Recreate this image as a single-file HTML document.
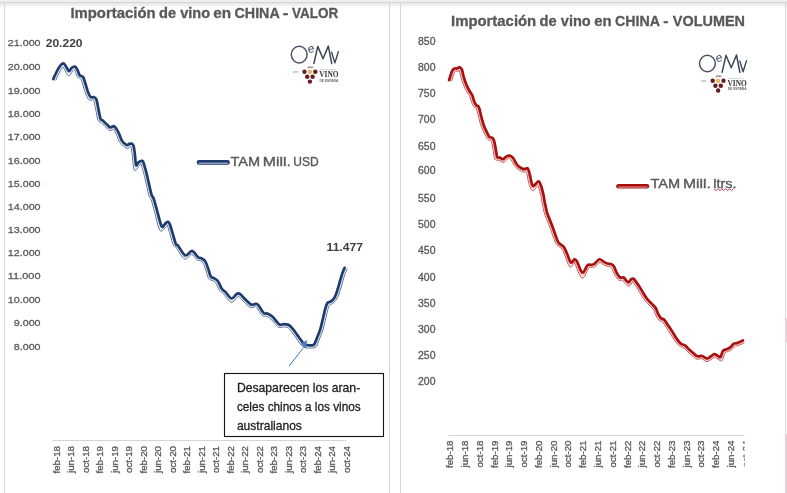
<!DOCTYPE html>
<html><head><meta charset="utf-8"><title>Importación de vino en China</title>
<style>html,body{margin:0;padding:0;background:#fff;width:787px;height:493px;overflow:hidden}svg{display:block}</style>
</head><body>
<svg width="787" height="493" viewBox="0 0 787 493" font-family="Liberation Sans, Arial, sans-serif">
<defs>
<linearGradient id="tg" x1="0" y1="0" x2="0" y2="1"><stop offset="0" stop-color="#e6e6e6"/><stop offset="1" stop-color="#ffffff"/></linearGradient>
<clipPath id="rclip"><rect x="400" y="0" width="344.6" height="493"/></clipPath>
</defs>
<rect x="0" y="0" width="787" height="493" fill="#ffffff"/>
<rect x="0" y="0" width="787" height="2" fill="#efefef"/>
<rect x="0" y="2" width="787" height="1" fill="#d5d5d5"/>
<rect x="0" y="3" width="787" height="5" fill="url(#tg)"/>
<rect x="4" y="2" width="1" height="491" fill="#d9d9d9"/>
<rect x="389" y="2" width="1" height="491" fill="#d9d9d9"/>
<rect x="400" y="2" width="1" height="491" fill="#d9d9d9"/>
<rect x="785" y="2" width="1" height="491" fill="#dadada"/>
<rect x="785" y="318" width="2" height="24" fill="#e6d6da"/>
<rect x="785" y="434" width="2" height="59" fill="#e4d2d7"/>

<g font-weight="bold" font-size="14.5" fill="#595959" stroke="#595959" stroke-width="0.3"><text x="70.40" y="17.60" textLength="85.22" lengthAdjust="spacingAndGlyphs">Importación</text><text x="159.00" y="17.60" textLength="17.10" lengthAdjust="spacingAndGlyphs">de</text><text x="180.24" y="17.60" textLength="29.93" lengthAdjust="spacingAndGlyphs">vino</text><text x="213.30" y="17.60" textLength="17.85" lengthAdjust="spacingAndGlyphs">en</text><text x="234.51" y="17.60" textLength="45.26" lengthAdjust="spacingAndGlyphs">CHINA</text><text x="282.49" y="17.60" textLength="6.03" lengthAdjust="spacingAndGlyphs">-</text><text x="292.01" y="17.60" textLength="46.26" lengthAdjust="spacingAndGlyphs">VALOR</text></g>
<g font-size="9.8" fill="#595959" stroke="#595959" stroke-width="0.28"><text x="40.6" y="45.80" text-anchor="end" textLength="32.82" lengthAdjust="spacingAndGlyphs">21.000</text>
<text x="40.6" y="70.30" text-anchor="end" textLength="32.82" lengthAdjust="spacingAndGlyphs">20.000</text>
<text x="40.6" y="93.60" text-anchor="end" textLength="32.82" lengthAdjust="spacingAndGlyphs">19.000</text>
<text x="40.6" y="116.90" text-anchor="end" textLength="32.82" lengthAdjust="spacingAndGlyphs">18.000</text>
<text x="40.6" y="140.45" text-anchor="end" textLength="32.82" lengthAdjust="spacingAndGlyphs">17.000</text>
<text x="40.6" y="163.60" text-anchor="end" textLength="32.82" lengthAdjust="spacingAndGlyphs">16.000</text>
<text x="40.6" y="186.50" text-anchor="end" textLength="32.82" lengthAdjust="spacingAndGlyphs">15.000</text>
<text x="40.6" y="209.80" text-anchor="end" textLength="32.82" lengthAdjust="spacingAndGlyphs">14.000</text>
<text x="40.6" y="233.30" text-anchor="end" textLength="32.82" lengthAdjust="spacingAndGlyphs">13.000</text>
<text x="40.6" y="256.00" text-anchor="end" textLength="32.82" lengthAdjust="spacingAndGlyphs">12.000</text>
<text x="40.6" y="279.45" text-anchor="end" textLength="32.82" lengthAdjust="spacingAndGlyphs">11.000</text>
<text x="40.6" y="302.80" text-anchor="end" textLength="32.82" lengthAdjust="spacingAndGlyphs">10.000</text>
<text x="40.6" y="326.20" text-anchor="end" textLength="26.85" lengthAdjust="spacingAndGlyphs">9.000</text>
<text x="40.6" y="349.50" text-anchor="end" textLength="26.85" lengthAdjust="spacingAndGlyphs">8.000</text></g>
<line x1="52.2" y1="440.5" x2="346.5" y2="440.5" stroke="#d4d4d4" stroke-width="1"/>
<g fill="#595959" stroke="#595959" stroke-width="0.3"><text transform="translate(59.60,446.00) rotate(-90) scale(1.080,1)" text-anchor="end" font-size="9.0">feb-18</text>
<text transform="translate(74.10,446.00) rotate(-90) scale(1.080,1)" text-anchor="end" font-size="9.0">jun-18</text>
<text transform="translate(88.61,446.00) rotate(-90) scale(1.080,1)" text-anchor="end" font-size="9.0">oct-18</text>
<text transform="translate(103.11,446.00) rotate(-90) scale(1.080,1)" text-anchor="end" font-size="9.0">feb-19</text>
<text transform="translate(117.62,446.00) rotate(-90) scale(1.080,1)" text-anchor="end" font-size="9.0">jun-19</text>
<text transform="translate(132.12,446.00) rotate(-90) scale(1.080,1)" text-anchor="end" font-size="9.0">oct-19</text>
<text transform="translate(146.63,446.00) rotate(-90) scale(1.080,1)" text-anchor="end" font-size="9.0">feb-20</text>
<text transform="translate(161.13,446.00) rotate(-90) scale(1.080,1)" text-anchor="end" font-size="9.0">jun-20</text>
<text transform="translate(175.64,446.00) rotate(-90) scale(1.080,1)" text-anchor="end" font-size="9.0">oct-20</text>
<text transform="translate(190.14,446.00) rotate(-90) scale(1.080,1)" text-anchor="end" font-size="9.0">feb-21</text>
<text transform="translate(204.65,446.00) rotate(-90) scale(1.080,1)" text-anchor="end" font-size="9.0">jun-21</text>
<text transform="translate(219.15,446.00) rotate(-90) scale(1.080,1)" text-anchor="end" font-size="9.0">oct-21</text>
<text transform="translate(233.66,446.00) rotate(-90) scale(1.080,1)" text-anchor="end" font-size="9.0">feb-22</text>
<text transform="translate(248.16,446.00) rotate(-90) scale(1.080,1)" text-anchor="end" font-size="9.0">jun-22</text>
<text transform="translate(262.67,446.00) rotate(-90) scale(1.080,1)" text-anchor="end" font-size="9.0">oct-22</text>
<text transform="translate(277.17,446.00) rotate(-90) scale(1.080,1)" text-anchor="end" font-size="9.0">feb-23</text>
<text transform="translate(291.68,446.00) rotate(-90) scale(1.080,1)" text-anchor="end" font-size="9.0">jun-23</text>
<text transform="translate(306.18,446.00) rotate(-90) scale(1.080,1)" text-anchor="end" font-size="9.0">oct-23</text>
<text transform="translate(320.69,446.00) rotate(-90) scale(1.080,1)" text-anchor="end" font-size="9.0">feb-24</text>
<text transform="translate(335.19,446.00) rotate(-90) scale(1.080,1)" text-anchor="end" font-size="9.0">jun-24</text>
<text transform="translate(349.70,446.00) rotate(-90) scale(1.080,1)" text-anchor="end" font-size="9.0">oct-24</text></g>
<path d="M55.8,80.1 C56.3,79.0 57.8,75.3 58.9,73.2 C60.0,71.2 61.4,68.8 62.1,67.8 C62.8,66.8 62.7,67.0 63.0,67.0 C63.3,67.1 62.9,66.5 63.8,68.0 C64.7,69.4 67.0,75.5 68.6,75.9 C70.1,76.3 72.2,71.2 73.2,70.2 C74.1,69.2 73.7,69.7 74.1,69.9 C74.4,70.1 74.6,70.2 75.1,71.3 C75.7,72.5 76.6,75.6 77.3,76.8 C78.0,77.9 79.0,77.9 79.6,78.3 C80.2,78.7 80.5,78.2 81.1,79.1 C81.6,80.1 82.0,81.7 82.7,84.0 C83.4,86.3 84.3,90.2 85.4,92.8 C86.4,95.4 87.7,98.6 88.9,99.8 C90.2,101.0 91.9,99.6 92.8,99.8 C93.6,100.0 93.5,99.3 94.0,101.0 C94.5,102.8 95.2,106.9 95.9,110.2 C96.5,113.4 97.2,118.2 98.1,120.3 C99.0,122.5 100.2,121.9 101.3,122.8 C102.4,123.8 103.1,124.8 104.6,126.1 C106.0,127.4 108.5,130.0 109.9,130.5 C111.3,131.0 112.3,129.3 113.0,129.3 C113.7,129.2 113.6,129.5 114.1,130.3 C114.7,131.2 115.6,132.7 116.5,134.6 C117.3,136.4 118.2,139.5 119.1,141.2 C120.1,143.0 120.7,143.9 122.0,145.1 C123.4,146.3 125.9,148.2 127.2,148.4 C128.6,148.7 129.5,146.9 130.0,146.6 C130.6,146.3 130.4,146.4 130.6,146.6 C130.8,146.7 130.8,146.0 131.1,147.3 C131.4,148.7 131.7,151.0 132.2,154.8 C132.8,158.7 133.2,168.7 134.5,170.3 C135.9,171.8 139.1,165.4 140.3,164.4 C141.4,163.3 141.3,163.9 141.4,163.8 C141.5,163.7 140.8,163.1 140.9,163.7 C141.0,164.3 141.6,165.6 142.1,167.5 C142.6,169.3 143.0,170.1 144.1,174.7 C145.2,179.2 147.6,190.5 148.7,194.7 C149.9,198.9 150.3,197.1 151.2,199.7 C152.1,202.3 152.7,205.2 154.2,210.3 C155.7,215.5 158.0,227.7 160.0,230.4 C162.0,233.1 165.0,227.3 166.2,226.5 C167.4,225.7 166.9,225.7 167.2,225.7 C167.4,225.7 166.7,223.1 167.7,226.3 C168.7,229.4 171.8,241.1 173.2,244.6 C174.6,248.1 174.0,245.0 176.0,247.4 C177.9,249.8 182.1,257.9 184.7,259.1 C187.3,260.2 189.6,254.3 191.6,254.4 C193.6,254.5 195.2,258.6 196.5,259.6 C197.9,260.6 198.8,260.0 199.8,260.5 C200.9,261.1 202.1,261.5 203.1,263.1 C204.1,264.7 204.9,267.6 205.9,270.2 C206.8,272.8 207.4,276.7 208.6,278.5 C209.8,280.3 211.8,280.0 213.0,280.8 C214.2,281.6 214.8,281.6 215.9,283.2 C217.0,284.8 218.4,288.7 219.6,290.5 C220.9,292.3 221.6,291.9 223.5,293.8 C225.5,295.8 228.9,301.8 231.3,302.3 C233.7,302.7 236.5,297.5 237.8,296.6 C239.1,295.7 238.6,296.3 239.2,296.8 C239.9,297.3 240.0,297.9 241.8,299.7 C243.6,301.4 247.8,306.2 250.1,307.3 C252.4,308.5 254.3,306.7 255.3,306.7 C256.4,306.7 255.3,305.8 256.5,307.2 C257.6,308.7 260.5,314.0 262.1,315.5 C263.8,317.0 265.0,315.6 266.4,316.2 C267.8,316.7 269.2,317.5 270.5,318.7 C271.9,319.9 273.2,321.9 274.5,323.3 C275.9,324.8 277.1,326.8 278.6,327.4 C280.1,328.0 282.3,326.9 283.8,326.9 C285.2,326.9 286.4,327.0 287.3,327.4 C288.2,327.7 288.5,328.3 289.2,328.9 C289.9,329.6 290.2,330.0 291.4,331.5 C292.6,333.0 294.5,335.8 296.2,338.1 C297.9,340.4 299.8,343.7 301.5,345.3 C303.2,346.9 304.5,347.2 306.2,347.7 C307.8,348.1 309.8,348.2 311.5,348.0 C313.2,347.9 314.8,348.3 316.2,346.6 C317.6,345.0 318.7,340.9 319.8,338.1 C320.9,335.3 321.9,333.4 322.9,330.0 C323.9,326.6 325.1,320.9 325.9,317.6 C326.7,314.4 327.0,312.5 327.6,310.4 C328.2,308.4 328.8,306.1 329.4,305.1 C330.1,304.0 330.5,305.0 331.5,304.2 C332.5,303.5 334.4,302.2 335.5,300.8 C336.6,299.5 337.2,298.2 338.1,296.3 C338.9,294.4 339.7,291.8 340.5,289.3 C341.2,286.8 342.0,284.0 342.7,281.5 C343.4,279.0 344.1,276.4 344.8,274.3 C345.6,272.2 346.7,269.7 347.1,268.8" fill="none" stroke="#5b6d90" stroke-width="1.00" stroke-linejoin="round" stroke-linecap="round"/>
<path d="M54.8,79.7 C55.3,78.5 56.8,74.8 57.9,72.7 C59.0,70.6 60.4,68.3 61.2,67.1 C62.1,65.9 62.6,65.5 63.2,65.5 C63.8,65.6 63.8,65.9 64.7,67.3 C65.6,68.7 67.4,73.6 68.7,74.0 C70.0,74.3 71.5,70.2 72.5,69.3 C73.4,68.4 73.8,68.3 74.4,68.5 C75.0,68.8 75.5,69.5 76.1,70.8 C76.7,72.0 77.5,75.0 78.2,76.1 C78.9,77.2 79.5,77.0 80.2,77.4 C80.8,77.8 81.4,77.3 82.0,78.4 C82.6,79.4 83.0,81.4 83.8,83.7 C84.5,86.0 85.4,89.9 86.4,92.4 C87.4,94.9 88.5,97.6 89.6,98.7 C90.8,99.8 92.3,98.4 93.2,98.7 C94.1,99.0 94.4,98.6 95.0,100.5 C95.6,102.4 96.3,106.7 96.9,109.9 C97.6,113.1 98.2,117.7 99.1,119.7 C99.9,121.7 101.0,121.1 102.0,122.0 C103.1,122.9 104.0,124.1 105.3,125.3 C106.7,126.5 108.8,128.8 110.1,129.2 C111.4,129.7 112.5,127.9 113.3,128.0 C114.1,128.0 114.3,128.7 115.0,129.7 C115.7,130.7 116.6,132.3 117.5,134.1 C118.3,135.9 119.2,139.0 120.1,140.7 C121.0,142.4 121.6,143.2 122.8,144.3 C124.0,145.4 126.1,146.9 127.2,147.1 C128.4,147.3 129.0,145.8 129.7,145.5 C130.4,145.2 130.8,145.2 131.2,145.4 C131.6,145.7 131.8,145.4 132.2,147.0 C132.5,148.5 132.8,151.2 133.3,154.7 C133.8,158.2 134.1,166.7 135.2,168.2 C136.2,169.6 138.6,164.4 139.6,163.5 C140.6,162.6 140.9,162.8 141.2,162.7 C141.6,162.6 141.4,162.0 141.8,162.8 C142.1,163.5 142.6,165.2 143.2,167.2 C143.7,169.1 144.0,169.9 145.1,174.4 C146.3,178.9 148.6,190.2 149.8,194.3 C151.0,198.5 151.3,196.7 152.2,199.3 C153.1,201.9 153.9,205.1 155.3,210.0 C156.7,214.9 158.9,226.1 160.7,228.7 C162.4,231.3 164.4,226.4 165.5,225.6 C166.6,224.8 166.8,224.1 167.4,224.1 C167.9,224.2 167.5,222.4 168.7,225.8 C169.8,229.1 172.8,240.6 174.2,244.0 C175.5,247.5 175.0,244.4 176.8,246.6 C178.6,248.9 182.4,256.5 184.9,257.6 C187.4,258.6 189.7,252.8 191.8,253.0 C193.8,253.2 195.7,257.5 197.1,258.6 C198.6,259.7 199.2,258.9 200.4,259.5 C201.5,260.2 202.9,260.7 204.0,262.4 C205.1,264.1 206.0,267.3 206.9,269.8 C207.8,272.4 208.4,276.1 209.5,277.7 C210.6,279.4 212.4,279.0 213.6,279.8 C214.8,280.6 215.7,280.9 216.8,282.5 C218.0,284.2 219.3,288.0 220.5,289.8 C221.8,291.6 222.5,291.2 224.3,293.1 C226.1,294.9 229.2,300.3 231.4,300.7 C233.6,301.1 236.1,296.2 237.5,295.4 C238.9,294.6 238.9,295.2 239.8,295.8 C240.6,296.4 240.8,297.2 242.6,298.9 C244.3,300.7 248.3,305.1 250.5,306.2 C252.6,307.3 254.4,305.5 255.5,305.5 C256.7,305.6 256.0,304.9 257.2,306.4 C258.4,307.8 261.2,313.0 262.8,314.5 C264.4,315.9 265.4,314.6 266.8,315.1 C268.2,315.7 269.8,316.6 271.2,317.8 C272.7,319.1 274.0,321.2 275.3,322.6 C276.6,324.0 277.6,325.7 279.0,326.3 C280.4,326.8 282.3,325.8 283.8,325.8 C285.2,325.8 286.7,325.9 287.7,326.3 C288.8,326.7 289.2,327.4 290.0,328.1 C290.7,328.9 291.1,329.2 292.2,330.8 C293.4,332.3 295.4,335.2 297.1,337.4 C298.8,339.7 300.7,342.9 302.2,344.5 C303.8,346.0 304.9,346.2 306.5,346.6 C308.0,347.0 309.9,347.1 311.4,346.9 C312.9,346.8 314.1,347.3 315.4,345.7 C316.6,344.2 317.7,340.4 318.8,337.7 C319.9,335.0 320.8,333.1 321.8,329.7 C322.8,326.3 324.1,320.6 324.9,317.4 C325.6,314.1 325.9,312.3 326.5,310.1 C327.2,308.0 327.8,305.4 328.6,304.2 C329.3,303.1 329.9,304.0 330.9,303.3 C331.9,302.6 333.6,301.4 334.7,300.1 C335.7,298.9 336.3,297.7 337.1,295.9 C337.9,294.0 338.7,291.4 339.4,289.0 C340.2,286.5 340.9,283.7 341.6,281.1 C342.4,278.6 343.1,276.1 343.8,273.9 C344.6,271.8 345.7,269.3 346.1,268.4" fill="none" stroke="#cadcf2" stroke-width="1.00" stroke-linejoin="round" stroke-linecap="round"/>
<path d="M53.3,79.0 C53.8,77.8 55.4,74.2 56.5,72.0 C57.6,69.8 58.9,67.5 60.0,66.0 C61.1,64.5 62.4,63.2 63.4,63.3 C64.4,63.4 65.1,65.1 66.0,66.4 C66.9,67.7 68.0,70.9 68.9,71.2 C69.8,71.5 70.5,68.8 71.5,68.0 C72.5,67.2 74.0,66.3 75.0,66.6 C76.0,66.9 76.8,68.6 77.5,70.0 C78.2,71.4 78.9,74.0 79.5,75.0 C80.1,76.0 80.4,75.6 81.0,76.0 C81.6,76.4 82.6,76.1 83.3,77.3 C84.0,78.5 84.5,80.8 85.3,83.2 C86.1,85.6 87.0,89.5 87.9,91.8 C88.8,94.1 89.6,96.2 90.6,97.1 C91.6,98.0 92.9,96.7 93.9,97.1 C94.9,97.5 95.7,97.6 96.5,99.7 C97.3,101.8 97.8,106.4 98.5,109.6 C99.2,112.8 99.7,116.9 100.5,118.8 C101.3,120.7 102.1,119.9 103.1,120.8 C104.1,121.7 105.2,123.0 106.4,124.1 C107.6,125.2 109.2,127.1 110.4,127.4 C111.6,127.7 112.7,125.9 113.7,126.1 C114.7,126.3 115.4,127.5 116.3,128.7 C117.2,129.9 118.0,131.5 118.9,133.4 C119.8,135.3 120.7,138.3 121.5,139.9 C122.3,141.5 123.0,142.2 123.9,143.1 C124.9,144.0 126.3,145.1 127.2,145.2 C128.1,145.3 128.4,144.1 129.2,143.9 C130.0,143.7 131.3,143.4 132.1,143.8 C132.8,144.2 133.2,144.6 133.7,146.4 C134.2,148.2 134.5,151.4 134.9,154.5 C135.3,157.6 135.5,163.8 136.1,165.1 C136.7,166.4 137.8,162.9 138.6,162.2 C139.4,161.5 140.3,161.1 141.0,161.0 C141.7,160.9 142.4,160.5 143.0,161.4 C143.6,162.3 144.1,164.6 144.7,166.7 C145.3,168.8 145.6,169.5 146.7,174.0 C147.8,178.5 150.1,189.7 151.3,193.8 C152.5,197.9 152.8,196.1 153.7,198.7 C154.6,201.3 155.5,205.0 156.8,209.6 C158.1,214.2 160.3,223.8 161.6,226.2 C162.9,228.6 163.6,225.0 164.6,224.3 C165.6,223.6 166.7,221.8 167.6,221.9 C168.5,222.0 168.8,221.4 170.1,225.0 C171.4,228.6 174.3,239.8 175.6,243.2 C176.9,246.6 176.4,243.6 178.0,245.6 C179.6,247.6 183.0,254.5 185.3,255.4 C187.6,256.3 189.9,250.6 192.0,250.9 C194.1,251.2 196.5,256.0 198.0,257.2 C199.5,258.4 199.9,257.4 201.1,258.1 C202.3,258.8 204.1,259.5 205.3,261.4 C206.5,263.3 207.5,266.8 208.4,269.3 C209.3,271.8 209.8,275.1 210.8,276.6 C211.8,278.1 213.3,277.7 214.5,278.5 C215.7,279.3 216.9,279.8 218.1,281.5 C219.3,283.2 220.6,287.1 221.8,288.8 C223.0,290.5 223.8,290.3 225.4,291.9 C227.0,293.5 229.6,298.2 231.5,298.5 C233.4,298.8 235.5,294.4 237.0,293.7 C238.5,293.0 239.5,293.6 240.6,294.3 C241.7,295.0 242.0,296.1 243.7,297.8 C245.4,299.5 249.0,303.5 251.0,304.5 C253.0,305.5 254.6,303.8 255.8,303.9 C257.0,304.0 257.0,303.6 258.3,305.1 C259.6,306.6 262.2,311.6 263.7,313.0 C265.2,314.4 266.0,313.0 267.4,313.6 C268.8,314.2 270.8,315.3 272.3,316.6 C273.8,317.9 275.3,320.2 276.5,321.5 C277.7,322.8 278.4,324.2 279.6,324.6 C280.8,325.1 282.3,324.2 283.8,324.2 C285.3,324.2 287.2,324.3 288.4,324.8 C289.6,325.3 290.2,326.2 291.1,327.0 C292.0,327.8 292.3,328.2 293.5,329.8 C294.7,331.4 296.8,334.3 298.4,336.5 C300.0,338.7 301.9,341.8 303.3,343.2 C304.7,344.6 305.6,344.6 306.9,345.0 C308.2,345.4 310.0,345.4 311.2,345.3 C312.4,345.2 313.2,345.8 314.2,344.4 C315.2,343.0 316.3,339.6 317.3,337.1 C318.3,334.6 319.3,332.6 320.3,329.2 C321.3,325.8 322.5,320.2 323.3,317.0 C324.1,313.8 324.3,312.0 325.0,309.7 C325.7,307.4 326.4,304.3 327.3,303.0 C328.2,301.7 329.1,302.5 330.1,301.9 C331.1,301.2 332.5,300.2 333.4,299.1 C334.3,298.0 334.9,297.0 335.6,295.2 C336.4,293.4 337.1,290.9 337.9,288.5 C338.6,286.1 339.4,283.2 340.1,280.7 C340.8,278.2 341.6,275.5 342.3,273.4 C343.1,271.2 344.2,268.7 344.6,267.8" fill="none" stroke="#1f3b6b" stroke-width="2.70" stroke-linejoin="round" stroke-linecap="round"/>
<text x="45.7" y="46.6" font-weight="bold" font-size="11.6" fill="#404040" textLength="36.9" lengthAdjust="spacingAndGlyphs">20.220</text>
<text x="326.6" y="251.4" font-weight="bold" font-size="11.8" fill="#404040" textLength="36.3" lengthAdjust="spacingAndGlyphs">11.477</text>
<rect x="196.7" y="160.1" width="33.2" height="4.6" rx="2.3" fill="#1f3b6b"/>
<line x1="198.6" y1="163.2" x2="228" y2="163.2" stroke="#cfe0f3" stroke-width="0.9"/>
<g font-size="12.6" fill="#595959" stroke="#595959" stroke-width="0.35"><text x="230.48" y="165.60" textLength="29.67" lengthAdjust="spacingAndGlyphs">TAM</text><text x="262.80" y="165.60" textLength="28.14" lengthAdjust="spacingAndGlyphs">Mill.</text><text x="293.37" y="165.60" textLength="25.40" lengthAdjust="spacingAndGlyphs">USD</text></g>
<g transform="translate(0.0,0.0)">
<ellipse cx="299.2" cy="54.6" rx="7.9" ry="8.3" fill="none" stroke="#4a5264" stroke-width="1.45"/>
<text x="307.6" y="52.6" font-family="Liberation Sans, sans-serif" font-size="12" fill="#3f4a60" transform="rotate(-8 311 49)">e</text>
<polyline points="313.9,63.4 317.8,46.4 323,58.8 328.3,46.1 331.7,63.4" fill="none" stroke="#3c4658" stroke-width="1.5" stroke-linejoin="round" stroke-linecap="round"/>
<polyline points="331.6,52.2 334.9,62.9 338.3,51.7" fill="none" stroke="#3c4658" stroke-width="1.4" stroke-linejoin="round" stroke-linecap="round"/>
<text x="293.2" y="72.8" font-family="Liberation Sans, sans-serif" font-size="3.4" fill="#8a8a8a">por</text>
<path d="M307.6,68.0 q1.6,-1.9 3.4,-0.6 q1.2,-1 2.3,0.3" fill="none" stroke="#7a4a3a" stroke-width="1"/>
<circle cx="304.5" cy="71.8" r="2.2" fill="#6a1a20"/>
<circle cx="309.9" cy="71.8" r="2.2" fill="#e3b866"/>
<circle cx="315.3" cy="71.8" r="2.2" fill="#6a1a20"/>
<circle cx="307.2" cy="76.8" r="2.2" fill="#6a1a20"/>
<circle cx="312.6" cy="76.8" r="2.2" fill="#6a1a20"/>
<circle cx="309.9" cy="81.6" r="2.2" fill="#6a1a20"/>
<text x="319.8" y="70.3" font-family="Liberation Sans, sans-serif" font-size="1.8" fill="#9a9a9a" textLength="16.5" lengthAdjust="spacingAndGlyphs">OBSERVATORIO ESPAÑOL</text>
<text x="319.3" y="77.3" font-family="Liberation Serif, serif" font-weight="bold" font-size="7.6" fill="#34343f" textLength="19.2" lengthAdjust="spacingAndGlyphs">VINO</text>
<text x="319.5" y="81.6" font-family="Liberation Sans, sans-serif" font-size="2.7" font-weight="bold" fill="#666" textLength="18.8" lengthAdjust="spacingAndGlyphs">DE ESPAÑA</text>
</g>
<line x1="289.1" y1="366.1" x2="303.5" y2="347.6" stroke="#4a77b4" stroke-width="1"/>
<polygon points="307.0,339.9 300.6,343.8 305.9,349.0" fill="#4a7cc0"/>
<rect x="224.5" y="373.5" width="159" height="63" fill="#ffffff" stroke="#111" stroke-width="1.1"/>
<g font-size="12.4" fill="#1e1e1e" stroke="#1e1e1e" stroke-width="0.3">
<text x="236.9" y="392.1" textLength="123.3" lengthAdjust="spacingAndGlyphs">Desaparecen los aran-</text>
<text x="236.9" y="411.4" textLength="123.8" lengthAdjust="spacingAndGlyphs">celes chinos a los vinos</text>
<text x="236.9" y="430.2" textLength="65.0" lengthAdjust="spacingAndGlyphs">australianos</text>
</g>
<g font-weight="bold" font-size="14.5" fill="#595959" stroke="#595959" stroke-width="0.3"><text x="451.00" y="26.10" textLength="85.22" lengthAdjust="spacingAndGlyphs">Importación</text><text x="539.60" y="26.10" textLength="17.10" lengthAdjust="spacingAndGlyphs">de</text><text x="560.84" y="26.10" textLength="29.93" lengthAdjust="spacingAndGlyphs">vino</text><text x="594.21" y="26.10" textLength="17.52" lengthAdjust="spacingAndGlyphs">en</text><text x="615.12" y="26.10" textLength="44.96" lengthAdjust="spacingAndGlyphs">CHINA</text><text x="663.30" y="26.10" textLength="5.11" lengthAdjust="spacingAndGlyphs">-</text><text x="672.80" y="26.10" textLength="72.17" lengthAdjust="spacingAndGlyphs">VOLUMEN</text></g>
<g font-size="10" fill="#595959" stroke="#595959" stroke-width="0.3"><text x="435.5" y="44.80" text-anchor="end" textLength="17.44" lengthAdjust="spacingAndGlyphs">850</text>
<text x="435.5" y="71.00" text-anchor="end" textLength="17.44" lengthAdjust="spacingAndGlyphs">800</text>
<text x="435.5" y="97.20" text-anchor="end" textLength="17.44" lengthAdjust="spacingAndGlyphs">750</text>
<text x="435.5" y="123.40" text-anchor="end" textLength="17.44" lengthAdjust="spacingAndGlyphs">700</text>
<text x="435.5" y="149.60" text-anchor="end" textLength="17.44" lengthAdjust="spacingAndGlyphs">650</text>
<text x="435.5" y="173.50" text-anchor="end" textLength="17.44" lengthAdjust="spacingAndGlyphs">600</text>
<text x="435.5" y="202.00" text-anchor="end" textLength="17.44" lengthAdjust="spacingAndGlyphs">550</text>
<text x="435.5" y="228.20" text-anchor="end" textLength="17.44" lengthAdjust="spacingAndGlyphs">500</text>
<text x="435.5" y="254.40" text-anchor="end" textLength="17.44" lengthAdjust="spacingAndGlyphs">450</text>
<text x="435.5" y="280.60" text-anchor="end" textLength="17.44" lengthAdjust="spacingAndGlyphs">400</text>
<text x="435.5" y="306.80" text-anchor="end" textLength="17.44" lengthAdjust="spacingAndGlyphs">350</text>
<text x="435.5" y="333.00" text-anchor="end" textLength="17.44" lengthAdjust="spacingAndGlyphs">300</text>
<text x="435.5" y="359.20" text-anchor="end" textLength="17.44" lengthAdjust="spacingAndGlyphs">250</text>
<text x="435.5" y="385.40" text-anchor="end" textLength="17.44" lengthAdjust="spacingAndGlyphs">200</text></g>
<line x1="448.4" y1="435.5" x2="744.5" y2="435.5" stroke="#d4d4d4" stroke-width="1"/>
<g fill="#595959" stroke="#595959" stroke-width="0.3" clip-path="url(#rclip)"><text transform="translate(453.40,440.50) rotate(-90) scale(1.080,1)" text-anchor="end" font-size="9.0">feb-18</text>
<text transform="translate(468.16,440.50) rotate(-90) scale(1.080,1)" text-anchor="end" font-size="9.0">jun-18</text>
<text transform="translate(482.92,440.50) rotate(-90) scale(1.080,1)" text-anchor="end" font-size="9.0">oct-18</text>
<text transform="translate(497.68,440.50) rotate(-90) scale(1.080,1)" text-anchor="end" font-size="9.0">feb-19</text>
<text transform="translate(512.44,440.50) rotate(-90) scale(1.080,1)" text-anchor="end" font-size="9.0">jun-19</text>
<text transform="translate(527.20,440.50) rotate(-90) scale(1.080,1)" text-anchor="end" font-size="9.0">oct-19</text>
<text transform="translate(541.96,440.50) rotate(-90) scale(1.080,1)" text-anchor="end" font-size="9.0">feb-20</text>
<text transform="translate(556.72,440.50) rotate(-90) scale(1.080,1)" text-anchor="end" font-size="9.0">jun-20</text>
<text transform="translate(571.48,440.50) rotate(-90) scale(1.080,1)" text-anchor="end" font-size="9.0">oct-20</text>
<text transform="translate(586.24,440.50) rotate(-90) scale(1.080,1)" text-anchor="end" font-size="9.0">feb-21</text>
<text transform="translate(601.00,440.50) rotate(-90) scale(1.080,1)" text-anchor="end" font-size="9.0">jun-21</text>
<text transform="translate(615.76,440.50) rotate(-90) scale(1.080,1)" text-anchor="end" font-size="9.0">oct-21</text>
<text transform="translate(630.52,440.50) rotate(-90) scale(1.080,1)" text-anchor="end" font-size="9.0">feb-22</text>
<text transform="translate(645.28,440.50) rotate(-90) scale(1.080,1)" text-anchor="end" font-size="9.0">jun-22</text>
<text transform="translate(660.04,440.50) rotate(-90) scale(1.080,1)" text-anchor="end" font-size="9.0">oct-22</text>
<text transform="translate(674.80,440.50) rotate(-90) scale(1.080,1)" text-anchor="end" font-size="9.0">feb-23</text>
<text transform="translate(689.56,440.50) rotate(-90) scale(1.080,1)" text-anchor="end" font-size="9.0">jun-23</text>
<text transform="translate(704.32,440.50) rotate(-90) scale(1.080,1)" text-anchor="end" font-size="9.0">oct-23</text>
<text transform="translate(719.08,440.50) rotate(-90) scale(1.080,1)" text-anchor="end" font-size="9.0">feb-24</text>
<text transform="translate(733.84,440.50) rotate(-90) scale(1.080,1)" text-anchor="end" font-size="9.0">jun-24</text>
<text transform="translate(748.60,440.50) rotate(-90) scale(1.080,1)" text-anchor="end" font-size="9.0">oct-24</text></g>
<path d="M451.7,80.9 C452.1,79.5 453.8,74.0 454.5,72.4 C455.2,70.8 455.5,71.4 456.0,71.2 C456.5,71.0 457.1,71.5 457.6,71.4 C458.1,71.3 458.7,70.6 459.0,70.6 C459.4,70.5 459.1,69.8 459.5,71.0 C459.8,72.2 460.4,75.3 461.1,77.7 C461.8,80.0 462.6,82.7 463.7,85.2 C464.8,87.8 466.4,91.0 467.5,92.9 C468.5,94.7 469.1,94.8 469.8,96.4 C470.5,97.9 470.8,100.4 471.6,102.3 C472.4,104.1 473.6,106.2 474.4,107.3 C475.2,108.4 475.7,106.9 476.5,108.9 C477.3,110.8 478.3,116.0 479.1,119.0 C479.9,122.1 480.6,124.6 481.6,127.2 C482.5,129.7 483.8,132.1 484.8,134.1 C485.8,136.2 486.9,138.4 487.8,139.4 C488.8,140.4 489.8,139.8 490.4,140.1 C491.0,140.4 490.9,139.8 491.4,141.4 C491.8,142.9 492.5,146.2 493.1,149.2 C493.6,152.2 493.9,157.4 494.9,159.2 C495.8,161.1 497.6,159.6 499.0,160.2 C500.3,160.7 501.7,162.6 503.2,162.4 C504.6,162.2 506.7,159.6 507.7,159.0 C508.7,158.3 508.9,158.5 509.4,158.7 C510.0,158.8 510.4,159.0 511.2,160.1 C512.0,161.2 512.9,163.7 514.1,165.3 C515.3,166.9 516.8,168.6 518.5,169.7 C520.1,170.8 522.8,171.8 524.0,172.1 C525.3,172.4 525.4,171.0 525.9,171.5 C526.4,172.0 526.6,172.8 527.1,174.8 C527.6,176.8 528.0,180.9 528.9,183.5 C529.8,186.1 531.1,190.3 532.5,190.7 C534.0,191.1 536.7,186.7 537.6,185.8 C538.5,185.0 537.7,185.4 537.9,185.6 C538.1,185.8 538.1,185.3 538.7,187.1 C539.2,189.0 540.5,194.0 541.1,196.5 C541.6,199.1 541.5,199.8 542.0,202.7 C542.6,205.6 543.8,211.0 544.6,213.9 C545.5,216.8 546.1,217.5 547.1,220.2 C548.1,222.8 549.6,226.6 550.8,229.8 C551.9,233.0 553.1,236.8 554.1,239.3 C555.1,241.8 555.3,243.1 556.5,244.6 C557.7,246.1 560.1,246.9 561.4,248.4 C562.6,249.9 562.8,250.7 564.2,253.8 C565.6,256.8 568.0,265.3 569.7,266.8 C571.5,268.3 573.7,263.4 574.5,262.8 C575.4,262.1 573.5,260.4 574.7,262.9 C576.0,265.5 579.6,277.3 582.0,278.1 C584.4,278.9 587.3,269.6 588.9,267.9 C590.5,266.1 590.3,267.7 591.4,267.5 C592.4,267.3 593.9,267.5 595.3,266.7 C596.7,265.9 598.6,263.0 599.8,262.6 C600.9,262.2 601.3,263.6 602.4,264.2 C603.6,264.8 605.3,265.7 606.5,266.1 C607.7,266.5 609.0,266.3 609.8,266.6 C610.7,267.0 611.0,266.9 611.8,268.3 C612.6,269.6 613.5,272.7 614.7,274.7 C615.8,276.7 617.4,279.3 618.7,280.2 C620.0,281.1 621.5,279.8 622.4,280.2 C623.3,280.6 623.2,281.6 624.3,282.6 C625.4,283.6 627.7,286.3 629.1,286.2 C630.5,286.0 632.0,282.4 632.6,281.7 C633.1,281.0 632.2,281.3 632.5,281.7 C632.8,282.1 633.4,282.7 634.3,284.0 C635.2,285.3 636.7,287.4 637.9,289.3 C639.1,291.2 640.3,293.5 641.5,295.5 C642.8,297.4 643.9,299.3 645.4,301.1 C646.9,302.9 648.9,304.7 650.3,306.1 C651.7,307.6 652.8,308.5 653.7,309.9 C654.5,311.3 654.6,312.9 655.5,314.6 C656.4,316.4 658.1,319.3 659.2,320.5 C660.3,321.7 661.1,320.6 662.3,321.7 C663.4,322.8 664.6,325.0 666.1,327.1 C667.5,329.2 669.4,332.1 670.8,334.4 C672.2,336.6 673.2,338.5 674.6,340.5 C676.0,342.4 677.8,344.8 679.4,346.0 C680.9,347.3 682.5,347.0 683.7,347.9 C685.0,348.7 685.7,350.0 687.1,351.3 C688.4,352.6 690.5,354.3 692.1,355.6 C693.7,356.9 695.1,358.5 696.7,359.1 C698.3,359.6 699.9,358.3 701.6,358.7 C703.3,359.2 705.3,361.5 707.0,361.6 C708.8,361.6 710.8,359.5 712.1,358.8 C713.3,358.1 713.7,357.3 714.5,357.2 C715.3,357.1 715.6,357.7 716.8,358.3 C718.0,358.9 720.4,361.7 721.8,360.8 C723.2,359.9 724.0,354.5 725.0,353.0 C726.0,351.4 726.6,352.2 727.7,351.6 C728.8,351.1 730.6,350.5 731.8,349.6 C733.0,348.7 734.2,346.8 735.1,346.2 C736.1,345.5 736.7,346.0 737.7,345.7 C738.6,345.4 739.9,344.8 741.0,344.4 C742.1,343.9 743.6,343.1 744.1,342.8" fill="none" stroke="#bd5050" stroke-width="1.00" stroke-linejoin="round" stroke-linecap="round"/>
<path d="M450.6,80.5 C451.1,79.1 452.7,73.5 453.6,71.8 C454.4,70.0 455.1,70.3 455.7,70.1 C456.3,69.8 456.7,70.4 457.3,70.2 C457.9,70.1 458.7,69.2 459.2,69.2 C459.7,69.2 460.0,69.1 460.5,70.4 C460.9,71.8 461.5,75.0 462.2,77.4 C462.9,79.8 463.7,82.3 464.7,84.8 C465.8,87.3 467.4,90.5 468.4,92.3 C469.4,94.2 470.1,94.3 470.8,95.9 C471.5,97.5 471.9,100.0 472.6,101.8 C473.4,103.6 474.5,105.5 475.3,106.6 C476.1,107.6 476.7,106.2 477.5,108.2 C478.3,110.3 479.3,115.6 480.2,118.7 C481.0,121.8 481.7,124.3 482.6,126.8 C483.5,129.3 484.8,131.7 485.8,133.6 C486.8,135.6 487.7,137.6 488.5,138.5 C489.4,139.4 490.4,138.7 491.1,139.1 C491.7,139.5 491.9,139.2 492.4,140.9 C492.9,142.5 493.6,146.1 494.1,149.0 C494.7,151.9 494.9,156.6 495.8,158.3 C496.7,160.0 498.1,158.7 499.3,159.1 C500.5,159.6 501.7,161.3 503.0,161.1 C504.4,160.9 506.1,158.5 507.3,157.9 C508.4,157.3 509.0,157.3 509.8,157.5 C510.6,157.7 511.2,158.2 512.1,159.3 C512.9,160.5 513.8,163.1 515.0,164.7 C516.2,166.2 517.6,167.7 519.1,168.7 C520.6,169.8 522.8,170.7 524.1,170.9 C525.4,171.1 525.9,169.6 526.6,170.2 C527.3,170.8 527.6,172.4 528.2,174.5 C528.7,176.7 529.2,180.7 530.0,183.1 C530.8,185.5 531.7,188.5 532.8,188.9 C534.0,189.2 536.0,185.8 536.9,185.0 C537.8,184.2 537.8,183.6 538.3,183.9 C538.7,184.2 539.0,184.7 539.7,186.8 C540.3,188.8 541.6,193.7 542.1,196.3 C542.7,198.9 542.5,199.6 543.1,202.5 C543.7,205.4 544.8,210.7 545.7,213.6 C546.5,216.5 547.1,217.1 548.1,219.8 C549.1,222.4 550.6,226.3 551.8,229.5 C553.0,232.6 554.2,236.5 555.1,238.9 C556.0,241.3 556.2,242.5 557.4,243.9 C558.6,245.4 561.0,246.1 562.2,247.7 C563.5,249.2 563.8,250.4 565.2,253.3 C566.5,256.2 568.6,263.7 570.2,265.0 C571.7,266.4 573.6,261.8 574.5,261.4 C575.4,260.9 574.3,259.8 575.6,262.2 C576.9,264.6 580.1,275.1 582.2,275.9 C584.3,276.7 586.7,268.5 588.2,266.9 C589.7,265.3 590.1,266.6 591.2,266.4 C592.3,266.2 593.3,266.5 594.7,265.7 C596.1,264.8 598.2,261.7 599.6,261.3 C601.0,260.9 601.8,262.6 603.0,263.2 C604.2,263.8 605.6,264.6 606.8,265.0 C608.0,265.4 609.3,265.2 610.3,265.6 C611.3,266.0 611.8,266.2 612.7,267.6 C613.6,269.0 614.5,272.2 615.6,274.1 C616.7,276.0 618.1,278.3 619.3,279.1 C620.5,279.9 622.0,278.7 622.9,279.1 C623.9,279.5 624.1,280.8 625.1,281.8 C626.1,282.7 627.8,284.8 628.9,284.6 C630.0,284.5 631.3,281.4 631.9,280.7 C632.6,280.0 632.3,280.1 632.9,280.5 C633.4,280.9 634.2,282.0 635.2,283.4 C636.2,284.7 637.6,286.8 638.8,288.8 C640.1,290.7 641.2,292.9 642.4,294.9 C643.7,296.8 644.8,298.7 646.3,300.4 C647.7,302.2 649.7,303.9 651.1,305.4 C652.5,306.9 653.7,307.9 654.6,309.3 C655.5,310.8 655.6,312.4 656.5,314.1 C657.4,315.8 658.8,318.5 659.9,319.6 C661.0,320.7 661.8,319.7 663.0,320.8 C664.1,322.0 665.5,324.3 667.0,326.5 C668.4,328.7 670.3,331.5 671.8,333.8 C673.2,336.0 674.1,338.0 675.5,339.8 C676.9,341.7 678.6,343.9 680.0,345.1 C681.5,346.3 683.1,346.1 684.4,346.9 C685.7,347.8 686.4,349.2 687.8,350.5 C689.2,351.8 691.3,353.5 692.8,354.7 C694.3,356.0 695.5,357.5 697.0,357.9 C698.5,358.4 700.2,357.2 701.9,357.6 C703.5,358.0 705.4,360.3 707.0,360.3 C708.6,360.4 710.3,358.6 711.5,357.9 C712.8,357.1 713.5,356.0 714.4,355.9 C715.4,355.9 716.2,356.8 717.3,357.3 C718.4,357.9 720.1,360.2 721.2,359.3 C722.4,358.4 723.2,353.6 724.2,352.2 C725.1,350.7 726.0,351.2 727.2,350.6 C728.4,350.1 729.9,349.6 731.2,348.7 C732.4,347.8 733.6,345.9 734.6,345.2 C735.6,344.5 736.4,344.9 737.4,344.6 C738.3,344.3 739.5,343.8 740.6,343.4 C741.6,342.9 743.1,342.1 743.6,341.8" fill="none" stroke="#f6aaaa" stroke-width="1.00" stroke-linejoin="round" stroke-linecap="round"/>
<path d="M449.1,80.0 C449.6,78.5 451.2,72.7 452.2,70.8 C453.2,68.9 454.4,68.8 455.2,68.4 C456.0,68.0 456.3,68.8 457.0,68.6 C457.7,68.4 458.7,67.0 459.5,67.2 C460.3,67.4 461.2,68.0 461.9,69.6 C462.6,71.2 463.0,74.5 463.7,76.9 C464.4,79.3 465.2,81.8 466.2,84.2 C467.2,86.6 468.8,89.7 469.8,91.5 C470.8,93.3 471.6,93.6 472.3,95.2 C473.0,96.8 473.4,99.5 474.1,101.2 C474.8,102.9 475.7,104.5 476.5,105.5 C477.3,106.5 478.0,105.2 478.9,107.3 C479.8,109.4 480.8,115.1 481.7,118.3 C482.6,121.5 483.2,123.8 484.1,126.2 C485.0,128.6 486.3,131.1 487.2,132.9 C488.1,134.7 488.8,136.3 489.6,137.1 C490.4,137.9 491.3,137.2 492.0,137.7 C492.7,138.2 493.3,138.4 493.9,140.2 C494.5,142.0 495.1,145.9 495.7,148.7 C496.2,151.5 496.5,155.5 497.2,157.0 C497.9,158.5 498.9,157.2 499.9,157.6 C500.8,158.0 501.8,159.4 502.9,159.2 C504.0,159.0 505.4,157.0 506.6,156.4 C507.8,155.8 509.1,155.5 510.2,155.8 C511.3,156.1 512.3,157.0 513.3,158.3 C514.3,159.6 515.2,162.2 516.3,163.7 C517.4,165.2 518.7,166.5 520.0,167.4 C521.3,168.3 522.9,169.1 524.2,169.2 C525.5,169.3 526.7,167.4 527.6,168.2 C528.5,169.0 529.1,171.7 529.7,174.1 C530.4,176.5 530.9,180.6 531.5,182.6 C532.1,184.6 532.6,186.0 533.3,186.2 C534.0,186.4 534.9,184.6 535.8,183.8 C536.7,183.0 537.9,181.0 538.8,181.4 C539.7,181.8 540.4,183.8 541.2,186.2 C542.0,188.6 543.1,193.3 543.7,196.0 C544.3,198.7 544.1,199.3 544.7,202.2 C545.3,205.0 546.4,210.3 547.2,213.1 C548.0,215.9 548.6,216.6 549.6,219.2 C550.6,221.8 552.1,225.7 553.3,228.9 C554.5,232.1 555.7,236.0 556.6,238.3 C557.5,240.6 557.6,241.5 558.7,242.9 C559.9,244.3 562.2,245.0 563.5,246.6 C564.8,248.2 565.4,250.0 566.6,252.6 C567.8,255.2 569.5,261.3 570.8,262.4 C572.1,263.5 573.5,259.5 574.5,259.3 C575.5,259.1 575.6,259.0 576.9,261.2 C578.2,263.4 580.7,272.0 582.4,272.7 C584.1,273.4 585.9,266.7 587.3,265.4 C588.7,264.1 589.8,265.0 590.9,264.8 C592.0,264.6 592.6,265.1 594.0,264.2 C595.4,263.3 597.8,259.7 599.4,259.3 C601.0,258.9 602.4,261.1 603.7,261.8 C605.0,262.5 606.1,263.1 607.3,263.5 C608.5,263.9 609.9,263.6 611.0,264.1 C612.1,264.6 613.0,265.1 614.0,266.6 C615.0,268.1 616.0,271.5 617.0,273.3 C618.0,275.1 619.0,276.8 620.1,277.5 C621.2,278.2 622.7,277.0 623.7,277.5 C624.7,278.0 625.4,279.8 626.2,280.6 C627.0,281.4 627.8,282.6 628.6,282.4 C629.4,282.2 630.2,279.9 631.0,279.3 C631.8,278.7 632.6,278.2 633.5,278.7 C634.4,279.2 635.4,280.9 636.5,282.4 C637.6,283.9 639.0,286.0 640.2,287.9 C641.4,289.8 642.6,292.1 643.8,294.0 C645.0,295.9 646.1,297.7 647.5,299.4 C648.9,301.1 650.9,302.8 652.3,304.3 C653.7,305.8 655.1,307.0 656.0,308.5 C656.9,310.0 657.1,311.8 657.9,313.4 C658.7,315.0 660.0,317.3 661.0,318.3 C662.0,319.3 662.8,318.3 664.0,319.5 C665.2,320.7 666.8,323.4 668.3,325.6 C669.8,327.8 671.7,330.7 673.1,332.9 C674.5,335.1 675.5,337.1 676.8,338.9 C678.1,340.7 679.6,342.7 681.0,343.8 C682.4,344.9 684.0,344.7 685.3,345.6 C686.6,346.5 687.5,348.0 688.9,349.3 C690.3,350.6 692.4,352.3 693.8,353.5 C695.2,354.7 696.1,355.9 697.5,356.3 C698.9,356.7 700.6,355.6 702.2,356.0 C703.8,356.4 705.6,358.4 707.0,358.5 C708.4,358.6 709.5,357.2 710.7,356.5 C711.9,355.8 713.1,354.2 714.3,354.1 C715.5,354.0 717.0,355.4 718.0,355.9 C719.0,356.4 719.6,357.9 720.4,357.1 C721.2,356.3 721.9,352.3 722.9,351.0 C723.9,349.7 725.3,349.8 726.5,349.2 C727.7,348.6 729.0,348.3 730.2,347.4 C731.4,346.5 732.7,344.4 733.8,343.7 C734.9,343.0 735.9,343.4 736.9,343.1 C737.9,342.8 738.9,342.3 739.9,341.9 C740.9,341.4 742.4,340.6 742.9,340.4" fill="none" stroke="#a81010" stroke-width="2.70" stroke-linejoin="round" stroke-linecap="round"/>
<rect x="616.2" y="184.0" width="33.0" height="4.6" rx="2.3" fill="#a81010"/>
<line x1="618.1" y1="187.1" x2="647.3" y2="187.1" stroke="#f6b0b0" stroke-width="0.9"/>
<g font-size="12.6" fill="#595959" stroke="#595959" stroke-width="0.35"><text x="650.48" y="188.20" textLength="29.67" lengthAdjust="spacingAndGlyphs">TAM</text><text x="683.01" y="188.20" textLength="27.92" lengthAdjust="spacingAndGlyphs">Mill.</text><text x="713.33" y="188.20" textLength="23.29" lengthAdjust="spacingAndGlyphs">ltrs.</text></g>
<polyline points="714.00,188.7 715.95,190.6 717.90,188.7 719.85,190.6 721.80,188.7 723.75,190.6 725.70,188.7 727.65,190.6 729.60,188.7 731.55,190.6 733.50,188.7" fill="none" stroke="#b3283a" stroke-width="0.9"/>
<g transform="translate(408.2,8.9)">
<ellipse cx="299.2" cy="54.6" rx="7.9" ry="8.3" fill="none" stroke="#4a5264" stroke-width="1.45"/>
<text x="307.6" y="52.6" font-family="Liberation Sans, sans-serif" font-size="12" fill="#3f4a60" transform="rotate(-8 311 49)">e</text>
<polyline points="313.9,63.4 317.8,46.4 323,58.8 328.3,46.1 331.7,63.4" fill="none" stroke="#3c4658" stroke-width="1.5" stroke-linejoin="round" stroke-linecap="round"/>
<polyline points="331.6,52.2 334.9,62.9 338.3,51.7" fill="none" stroke="#3c4658" stroke-width="1.4" stroke-linejoin="round" stroke-linecap="round"/>
<text x="293.2" y="72.8" font-family="Liberation Sans, sans-serif" font-size="3.4" fill="#8a8a8a">por</text>
<path d="M307.6,68.0 q1.6,-1.9 3.4,-0.6 q1.2,-1 2.3,0.3" fill="none" stroke="#7a4a3a" stroke-width="1"/>
<circle cx="304.5" cy="71.8" r="2.2" fill="#6a1a20"/>
<circle cx="309.9" cy="71.8" r="2.2" fill="#e3b866"/>
<circle cx="315.3" cy="71.8" r="2.2" fill="#6a1a20"/>
<circle cx="307.2" cy="76.8" r="2.2" fill="#6a1a20"/>
<circle cx="312.6" cy="76.8" r="2.2" fill="#6a1a20"/>
<circle cx="309.9" cy="81.6" r="2.2" fill="#6a1a20"/>
<text x="319.8" y="70.3" font-family="Liberation Sans, sans-serif" font-size="1.8" fill="#9a9a9a" textLength="16.5" lengthAdjust="spacingAndGlyphs">OBSERVATORIO ESPAÑOL</text>
<text x="319.3" y="77.3" font-family="Liberation Serif, serif" font-weight="bold" font-size="7.6" fill="#34343f" textLength="19.2" lengthAdjust="spacingAndGlyphs">VINO</text>
<text x="319.5" y="81.6" font-family="Liberation Sans, sans-serif" font-size="2.7" font-weight="bold" fill="#666" textLength="18.8" lengthAdjust="spacingAndGlyphs">DE ESPAÑA</text>
</g>
</svg>
</body></html>
